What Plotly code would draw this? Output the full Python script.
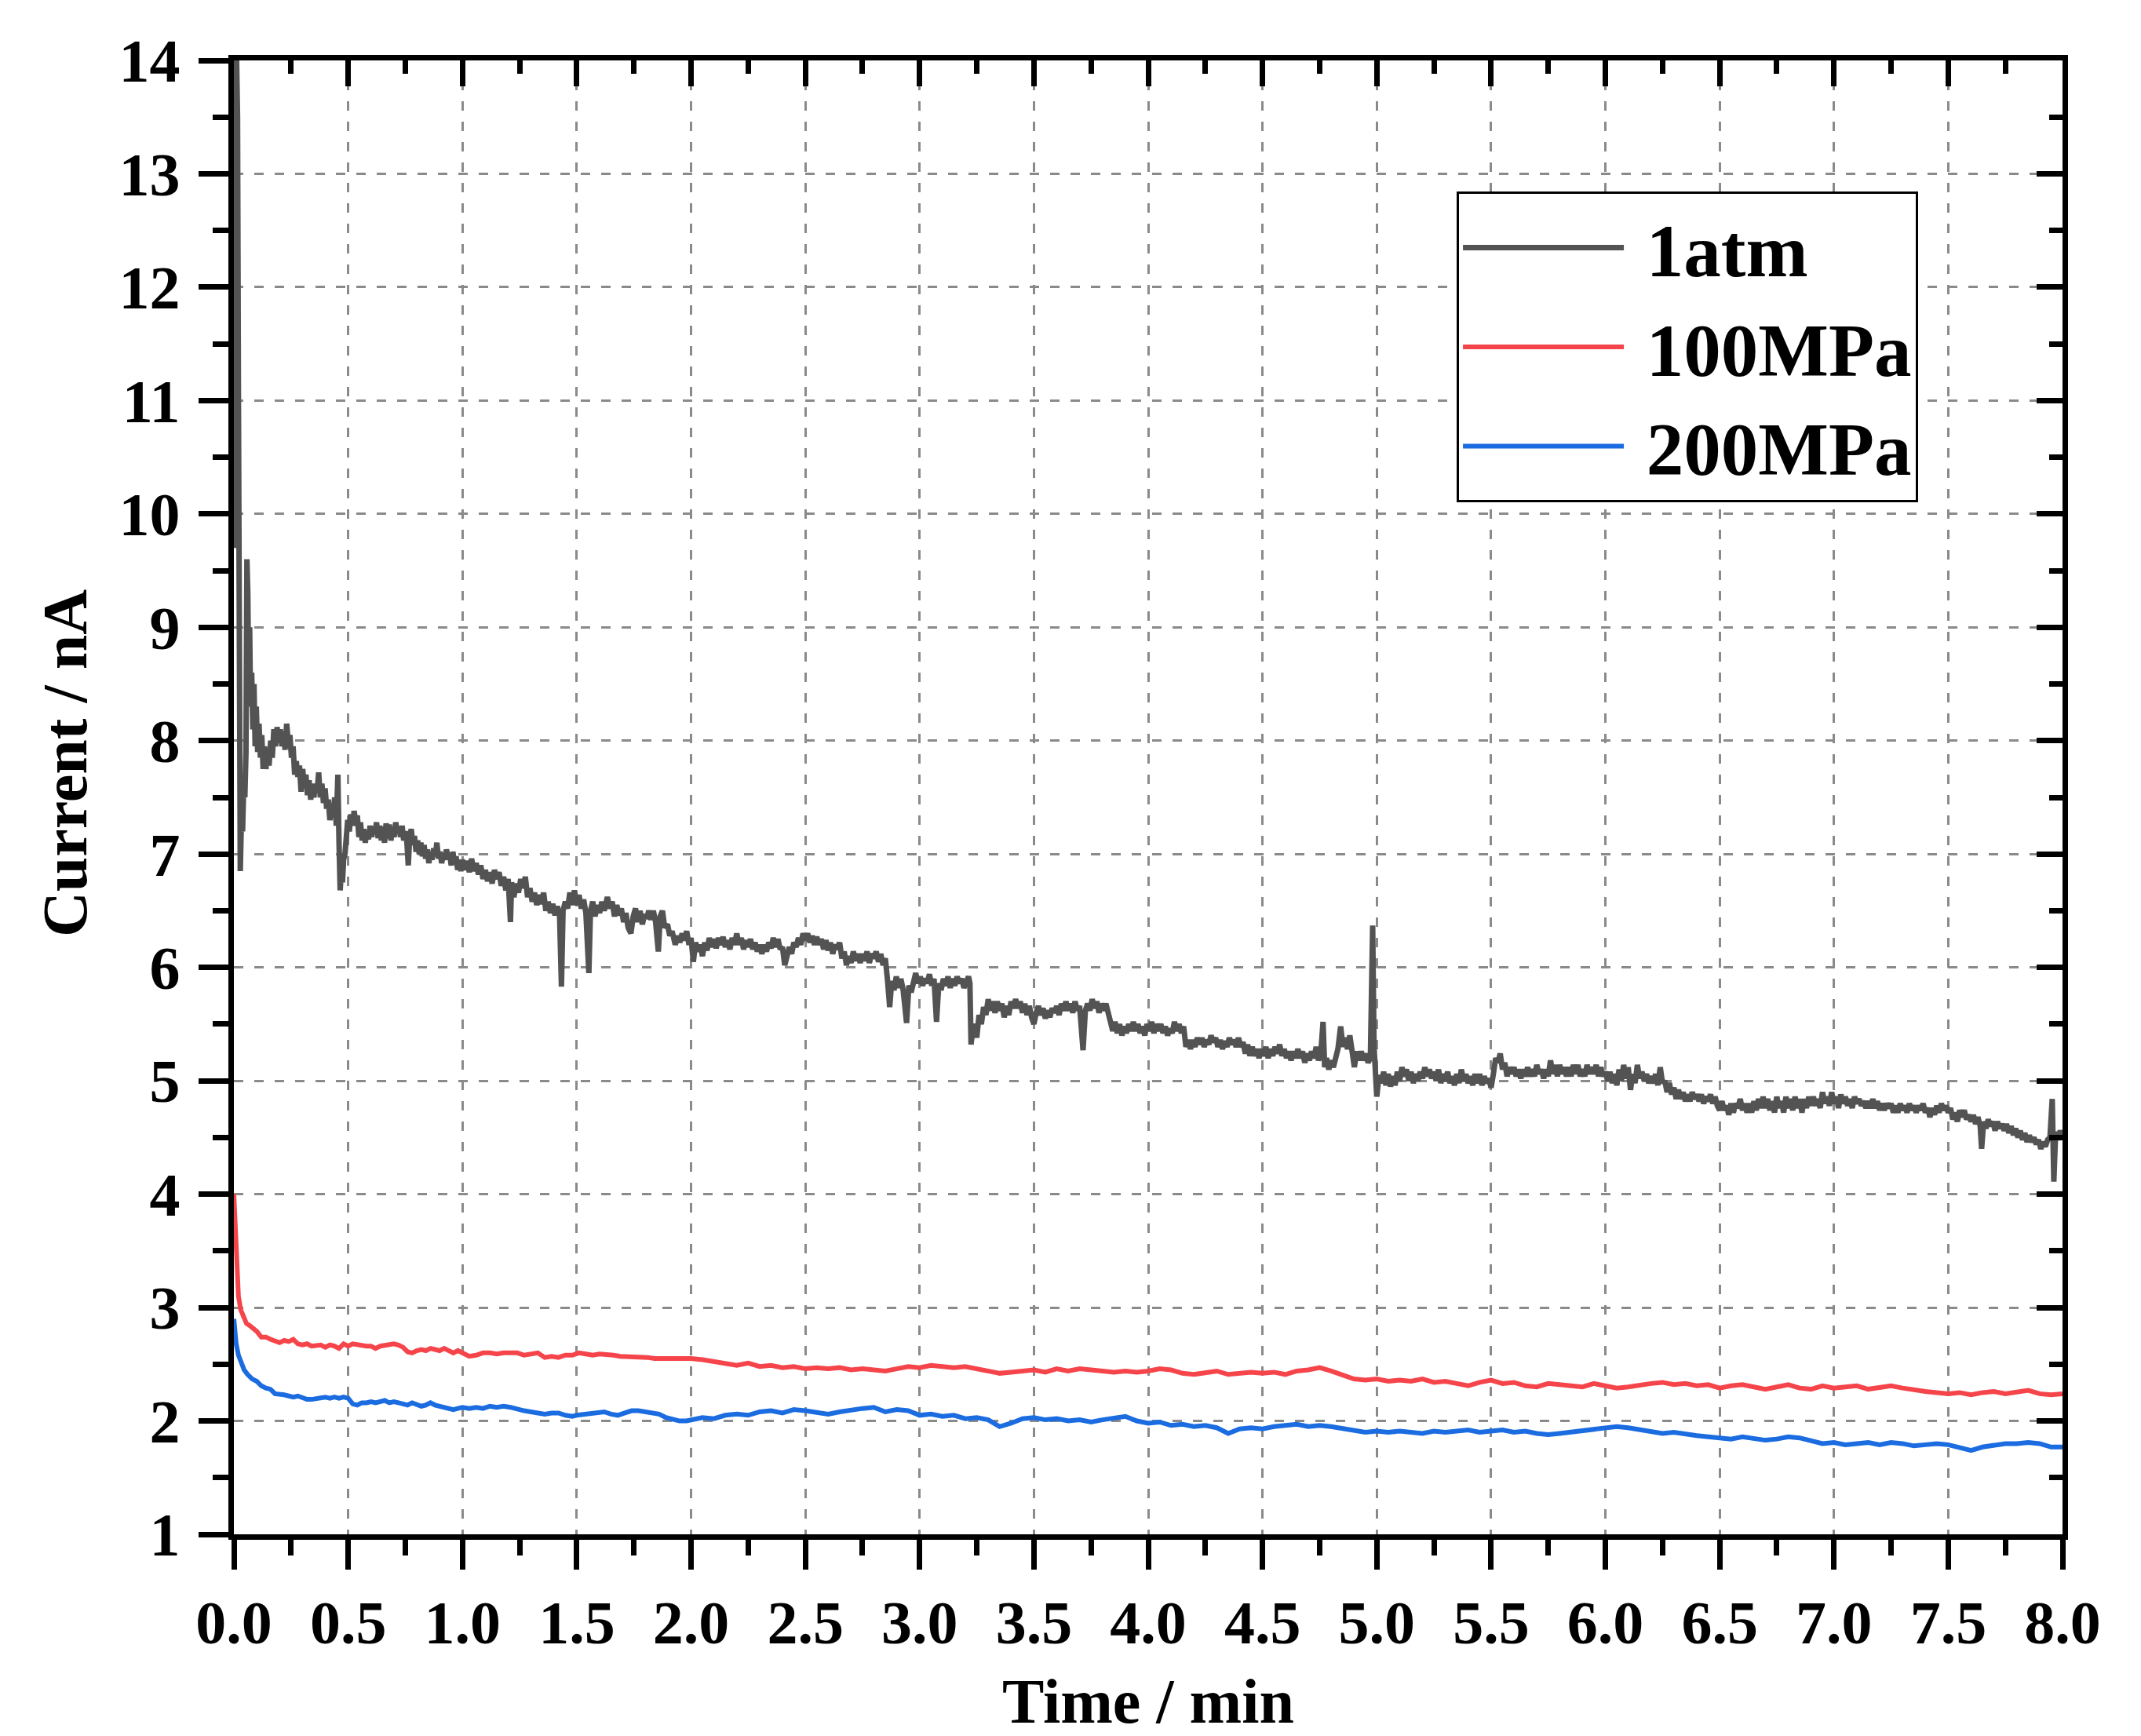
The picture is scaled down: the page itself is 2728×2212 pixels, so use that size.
import plotly.graph_objects as go

# ---------------- data ----------------
atm_t = [0.000,0.004,0.008,0.012,0.016,0.020,0.024,0.028,0.033,0.038,0.043,0.048,0.053,0.057,0.061,0.065,0.069,0.073,0.078,0.083,
0.088,0.093,0.098,0.104,0.110,0.116,0.122,0.128,0.134,0.140,0.147,0.154,0.161,0.168,0.175,0.182,0.189,0.196,0.203,0.210,
0.217,0.224,0.231,0.238,0.245,0.252,0.259,0.266,0.273,0.280,0.287,0.294,0.301,0.308,0.315,0.322,0.329,0.336,0.343,0.350,
0.357,0.364,0.371,0.378,0.385,0.392,0.399,0.406,0.413,0.420,0.427,0.434,0.441,0.448,0.455,0.460,0.465,0.470,0.475,0.480,
0.486,0.492,0.498,0.505,0.512,0.519,0.526,0.533,0.540,0.547,0.554,0.561,0.568,0.575,0.582,0.589,0.596,0.603,0.610,0.617,
0.624,0.631,0.638,0.645,0.652,0.659,0.666,0.673,0.680,0.687,0.694,0.701,0.708,0.715,0.722,0.729,0.736,0.743,0.750,0.757,
0.763,0.769,0.776,0.783,0.790,0.797,0.804,0.811,0.818,0.825,0.832,0.839,0.846,0.853,0.860,0.867,0.874,0.881,0.888,0.895,
0.902,0.909,0.916,0.923,0.930,0.937,0.944,0.951,0.958,0.965,0.972,0.979,0.986,0.993,1.000,1.010,1.020,1.030,1.040,1.050,
1.060,1.070,1.080,1.090,1.100,1.110,1.120,1.130,1.140,1.150,1.160,1.170,1.180,1.190,1.200,1.210,1.215,1.225,1.235,1.245,
1.255,1.265,1.275,1.285,1.295,1.305,1.315,1.325,1.335,1.345,1.355,1.365,1.375,1.385,1.395,1.405,1.415,1.425,1.433,1.440,
1.450,1.460,1.470,1.480,1.490,1.500,1.510,1.520,1.530,1.540,1.553,1.560,1.570,1.580,1.590,1.600,1.610,1.620,1.634,1.645,
1.655,1.665,1.675,1.685,1.695,1.705,1.715,1.725,1.737,1.747,1.757,1.767,1.777,1.787,1.797,1.806,1.815,1.825,1.835,1.845,
1.857,1.865,1.875,1.885,1.897,1.907,1.917,1.931,1.941,1.951,1.961,1.971,1.981,1.991,2.000,2.010,2.020,2.030,2.040,2.050,
2.060,2.070,2.080,2.090,2.100,2.110,2.120,2.130,2.140,2.150,2.160,2.170,2.180,2.190,2.200,2.210,2.220,2.230,2.240,2.250,
2.260,2.270,2.280,2.290,2.300,2.310,2.320,2.330,2.340,2.350,2.360,2.370,2.380,2.390,2.400,2.410,2.420,2.430,2.440,2.450,
2.460,2.470,2.480,2.490,2.500,2.510,2.520,2.530,2.540,2.550,2.560,2.570,2.580,2.590,2.600,2.610,2.620,2.630,2.640,2.650,
2.660,2.670,2.680,2.690,2.700,2.710,2.720,2.730,2.740,2.750,2.760,2.770,2.780,2.790,2.800,2.810,2.820,2.830,2.840,2.850,
2.860,2.869,2.878,2.888,2.898,2.908,2.918,2.928,2.943,2.953,2.963,2.973,2.983,2.993,3.003,3.013,3.023,3.033,3.043,3.053,
3.063,3.074,3.084,3.094,3.104,3.114,3.124,3.134,3.144,3.154,3.164,3.174,3.184,3.194,3.204,3.214,3.220,3.225,3.232,3.240,
3.250,3.260,3.270,3.280,3.290,3.300,3.310,3.320,3.330,3.340,3.350,3.360,3.370,3.380,3.390,3.400,3.410,3.420,3.430,3.440,
3.450,3.460,3.470,3.480,3.490,3.500,3.510,3.520,3.530,3.540,3.550,3.560,3.570,3.580,3.590,3.600,3.610,3.620,3.630,3.640,
3.650,3.660,3.670,3.680,3.690,3.700,3.715,3.725,3.735,3.745,3.755,3.765,3.775,3.785,3.795,3.805,3.815,3.825,3.835,3.845,
3.855,3.865,3.875,3.885,3.895,3.905,3.915,3.925,3.935,3.945,3.955,3.965,3.975,3.985,3.995,4.005,4.015,4.025,4.035,4.045,
4.055,4.065,4.075,4.085,4.095,4.105,4.115,4.125,4.135,4.145,4.155,4.165,4.175,4.185,4.195,4.205,4.215,4.225,4.235,4.245,
4.255,4.265,4.275,4.285,4.295,4.305,4.315,4.325,4.335,4.345,4.355,4.365,4.375,4.385,4.395,4.405,4.415,4.425,4.435,4.445,
4.455,4.465,4.475,4.485,4.495,4.505,4.515,4.525,4.535,4.545,4.555,4.565,4.575,4.585,4.595,4.605,4.615,4.625,4.635,4.645,
4.655,4.665,4.675,4.685,4.695,4.705,4.715,4.725,4.735,4.745,4.755,4.765,4.772,4.780,4.790,4.800,4.810,4.820,4.830,4.842,
4.852,4.862,4.872,4.882,4.892,4.902,4.912,4.922,4.932,4.942,4.952,4.962,4.972,4.982,4.988,4.994,5.000,5.010,5.020,5.030,
5.040,5.050,5.060,5.070,5.080,5.090,5.100,5.110,5.120,5.130,5.140,5.150,5.160,5.170,5.180,5.190,5.200,5.210,5.220,5.230,
5.240,5.250,5.260,5.270,5.280,5.290,5.300,5.310,5.320,5.330,5.340,5.350,5.360,5.370,5.380,5.390,5.400,5.410,5.420,5.430,
5.440,5.450,5.460,5.470,5.480,5.490,5.500,5.510,5.520,5.530,5.540,5.550,5.560,5.570,5.580,5.590,5.600,5.610,5.620,5.630,
5.640,5.650,5.660,5.670,5.680,5.690,5.700,5.710,5.720,5.730,5.740,5.750,5.760,5.770,5.780,5.790,5.800,5.810,5.820,5.830,
5.840,5.850,5.860,5.870,5.880,5.890,5.900,5.910,5.920,5.930,5.940,5.950,5.960,5.970,5.980,5.990,6.000,6.010,6.020,6.030,
6.040,6.050,6.060,6.070,6.080,6.090,6.100,6.110,6.120,6.130,6.140,6.150,6.160,6.170,6.180,6.190,6.200,6.210,6.220,6.230,
6.240,6.250,6.260,6.270,6.280,6.290,6.300,6.310,6.320,6.330,6.340,6.350,6.360,6.370,6.380,6.390,6.400,6.410,6.420,6.430,
6.440,6.450,6.460,6.470,6.480,6.490,6.500,6.510,6.520,6.530,6.540,6.550,6.560,6.570,6.580,6.590,6.600,6.610,6.620,6.630,
6.640,6.650,6.660,6.670,6.680,6.690,6.700,6.710,6.720,6.730,6.740,6.750,6.760,6.770,6.780,6.790,6.800,6.810,6.820,6.830,
6.840,6.850,6.860,6.870,6.880,6.890,6.900,6.910,6.920,6.930,6.940,6.950,6.960,6.970,6.980,6.990,7.000,7.010,7.020,7.030,
7.040,7.050,7.060,7.070,7.080,7.090,7.100,7.110,7.120,7.130,7.140,7.150,7.160,7.170,7.180,7.190,7.200,7.210,7.220,7.230,
7.240,7.250,7.260,7.270,7.280,7.290,7.300,7.310,7.320,7.330,7.340,7.350,7.360,7.370,7.380,7.390,7.400,7.410,7.420,7.430,
7.440,7.450,7.460,7.470,7.480,7.490,7.500,7.510,7.520,7.530,7.540,7.550,7.560,7.570,7.580,7.590,7.600,7.610,7.620,7.630,
7.640,7.646,7.655,7.665,7.675,7.685,7.695,7.705,7.715,7.725,7.735,7.745,7.755,7.765,7.775,7.785,7.795,7.805,7.815,7.825,
7.835,7.845,7.855,7.865,7.875,7.885,7.895,7.905,7.915,7.925,7.935,7.945,7.955,7.962,7.970,7.980,7.990,8.000]

atm_v = [9.7,14.0,12.8,14.0,13.5,11.0,9.8,6.85,7.3,7.2,7.6,7.5,7.9,9.6,9.3,8.4,9.0,8.3,8.6,8.1,
8.5,7.95,8.3,7.9,8.15,7.85,8.05,7.75,7.95,7.75,7.9,7.78,8.0,7.85,8.1,7.95,8.12,7.98,8.1,7.95,
8.08,7.92,8.15,7.98,8.05,7.85,7.95,7.7,7.82,7.68,7.78,7.55,7.75,7.6,7.7,7.52,7.65,7.48,7.62,7.5,
7.62,7.55,7.72,7.5,7.62,7.45,7.58,7.4,7.48,7.3,7.4,7.33,7.5,7.25,7.7,7.1,6.68,6.85,6.75,6.95,
7.0,7.15,7.3,7.2,7.35,7.25,7.38,7.28,7.34,7.15,7.28,7.12,7.22,7.1,7.2,7.13,7.25,7.15,7.24,7.18,
7.28,7.14,7.25,7.12,7.24,7.1,7.27,7.14,7.26,7.12,7.22,7.15,7.28,7.18,7.24,7.15,7.25,7.12,7.2,7.1,
6.9,7.15,7.22,7.08,7.16,7.02,7.12,7.0,7.1,6.98,7.08,6.96,7.04,6.92,7.02,6.95,7.05,6.98,7.1,6.96,
7.02,6.92,7.0,6.95,7.04,6.96,7.0,6.9,7.02,6.92,6.98,6.86,6.95,6.85,6.95,6.86,6.94,6.84,6.96,6.85,
6.92,6.82,6.9,6.78,6.86,6.76,6.84,6.74,6.86,6.78,6.84,6.72,6.8,6.68,6.78,6.4,6.75,6.62,6.74,6.66,
6.78,6.7,6.8,6.62,6.7,6.58,6.66,6.55,6.64,6.56,6.66,6.5,6.58,6.48,6.56,6.46,6.54,6.45,5.83,6.5,
6.58,6.52,6.66,6.55,6.68,6.55,6.64,6.52,6.6,6.48,5.95,6.5,6.58,6.45,6.55,6.48,6.58,6.5,6.62,6.52,
6.58,6.45,6.55,6.46,6.52,6.4,6.48,6.35,6.3,6.45,6.52,6.4,6.5,6.38,6.47,6.43,6.5,6.42,6.5,6.4,
6.14,6.45,6.5,6.35,6.38,6.28,6.32,6.2,6.28,6.22,6.3,6.24,6.32,6.2,6.26,6.05,6.22,6.14,6.2,6.1,
6.22,6.15,6.26,6.18,6.25,6.17,6.26,6.2,6.27,6.18,6.24,6.16,6.26,6.2,6.3,6.2,6.26,6.16,6.24,6.18,
6.25,6.16,6.22,6.14,6.2,6.12,6.2,6.14,6.22,6.17,6.26,6.18,6.25,6.16,6.18,6.02,6.12,6.18,6.12,6.22,
6.18,6.26,6.2,6.3,6.24,6.3,6.22,6.28,6.2,6.27,6.2,6.25,6.16,6.24,6.15,6.22,6.12,6.2,6.16,6.22,
6.08,6.14,6.02,6.1,6.04,6.14,6.06,6.12,6.04,6.12,6.06,6.14,6.04,6.12,6.08,6.14,6.05,6.12,6.02,6.08,
5.88,5.65,5.88,5.8,5.92,5.82,5.9,5.8,5.51,5.84,5.78,5.9,5.95,5.86,5.92,5.84,5.9,5.86,5.94,5.84,
5.9,5.52,5.86,5.8,5.9,5.84,5.92,5.82,5.9,5.84,5.92,5.86,5.9,5.82,5.88,5.92,5.86,5.32,5.45,5.5,
5.38,5.58,5.5,5.65,5.58,5.72,5.62,5.7,5.6,5.7,5.62,5.68,5.56,5.66,5.58,5.7,5.64,5.72,5.64,5.7,
5.6,5.68,5.58,5.66,5.56,5.5,5.6,5.66,5.58,5.64,5.55,5.62,5.56,5.64,5.6,5.66,5.58,5.68,5.62,5.7,
5.62,5.68,5.6,5.7,5.62,5.66,5.27,5.62,5.68,5.62,5.72,5.64,5.7,5.6,5.68,5.62,5.68,5.58,5.5,5.44,
5.52,5.42,5.5,5.4,5.48,5.42,5.5,5.44,5.52,5.44,5.5,5.42,5.48,5.4,5.5,5.44,5.52,5.42,5.5,5.44,
5.5,5.42,5.48,5.4,5.46,5.42,5.52,5.44,5.5,5.42,5.48,5.3,5.36,5.28,5.36,5.3,5.38,5.32,5.38,5.3,
5.36,5.32,5.4,5.34,5.38,5.3,5.36,5.28,5.35,5.3,5.38,5.32,5.36,5.3,5.38,5.3,5.34,5.24,5.32,5.22,
5.3,5.22,5.28,5.2,5.28,5.22,5.3,5.2,5.28,5.22,5.3,5.24,5.32,5.22,5.28,5.2,5.26,5.18,5.26,5.2,
5.28,5.2,5.26,5.16,5.24,5.18,5.26,5.2,5.3,5.18,5.24,5.52,5.12,5.2,5.1,5.18,5.12,5.2,5.28,5.48,
5.3,5.38,5.28,5.4,5.22,5.12,5.26,5.18,5.26,5.18,5.24,5.16,5.2,6.37,5.3,5.05,4.86,5.05,4.98,5.08,
4.96,5.06,4.95,5.04,4.96,5.08,5.0,5.12,5.04,5.1,5.0,5.08,4.98,5.06,5.0,5.08,5.02,5.12,5.04,5.1,
5.02,5.08,5.0,5.1,4.98,5.06,5.0,5.08,4.98,5.04,4.96,5.06,4.98,5.1,5.0,5.06,4.98,5.04,4.96,5.06,
4.98,5.06,4.96,5.04,4.98,5.02,4.94,5.06,5.2,5.16,5.24,5.1,5.16,5.04,5.12,5.06,5.12,5.04,5.1,5.02,
5.1,5.04,5.12,5.04,5.1,5.04,5.14,5.06,5.1,5.02,5.1,5.04,5.18,5.06,5.14,5.04,5.14,5.06,5.12,5.04,
5.12,5.04,5.14,5.06,5.14,5.04,5.1,5.04,5.14,5.06,5.12,5.06,5.14,5.04,5.12,5.04,5.08,5.0,5.08,4.98,
5.06,4.96,5.1,5.0,5.14,5.02,5.12,4.92,5.06,4.98,5.14,5.02,5.08,5.0,5.06,4.98,5.04,4.98,5.06,4.96,
5.12,4.98,5.0,4.9,4.98,4.88,4.94,4.84,4.92,4.84,4.9,4.82,4.88,4.82,4.9,4.84,4.88,4.82,4.88,4.8,
4.86,4.82,4.88,4.8,4.86,4.78,4.74,4.82,4.74,4.78,4.7,4.8,4.72,4.8,4.76,4.84,4.74,4.8,4.72,4.8,
4.72,4.82,4.74,4.84,4.76,4.86,4.76,4.84,4.74,4.82,4.72,4.86,4.76,4.82,4.72,4.86,4.76,4.84,4.74,4.86,
4.76,4.84,4.72,4.84,4.76,4.86,4.78,4.86,4.78,4.84,4.76,4.9,4.8,4.86,4.78,4.9,4.8,4.86,4.76,4.88,
4.8,4.86,4.78,4.84,4.76,4.86,4.8,4.84,4.78,4.82,4.76,4.82,4.76,4.84,4.76,4.82,4.74,4.8,4.74,4.8,
4.76,4.8,4.72,4.78,4.72,4.8,4.74,4.78,4.72,4.8,4.74,4.78,4.72,4.78,4.74,4.8,4.72,4.76,4.68,4.76,
4.7,4.78,4.72,4.8,4.74,4.78,4.72,4.76,4.66,4.72,4.64,4.74,4.68,4.74,4.66,4.7,4.64,4.7,4.62,4.68,
4.6,4.4,4.64,4.58,4.66,4.6,4.64,4.56,4.64,4.58,4.62,4.56,4.62,4.54,4.6,4.52,4.58,4.5,4.56,4.48,
4.54,4.46,4.52,4.46,4.5,4.44,4.48,4.4,4.46,4.42,4.48,4.5,4.84,4.11,4.55,4.48,4.56,4.5]

mpa100_t = [0.000,0.005,0.010,0.015,0.020,0.030,0.040,0.055,0.070,0.085,0.100,0.120,0.140,0.160,0.180,0.200,0.220,0.240,0.260,0.280,
0.300,0.320,0.340,0.360,0.380,0.400,0.420,0.440,0.460,0.480,0.500,0.520,0.540,0.560,0.580,0.600,0.620,0.640,0.660,0.680,
0.700,0.720,0.740,0.760,0.780,0.800,0.820,0.840,0.860,0.880,0.900,0.920,0.940,0.960,0.980,1.000,1.030,1.060,1.090,1.120,
1.150,1.180,1.210,1.240,1.270,1.300,1.330,1.360,1.390,1.420,1.450,1.480,1.510,1.540,1.570,1.600,1.630,1.660,1.690,1.720,
1.750,1.780,1.810,1.840,1.870,1.900,1.930,1.960,2.000,2.05,2.10,2.15,2.20,2.25,2.30,2.35,2.40,2.45,2.50,2.55,
2.60,2.65,2.70,2.75,2.80,2.85,2.90,2.95,3.00,3.05,3.10,3.15,3.20,3.25,3.30,3.35,3.40,3.45,3.50,3.55,
3.60,3.65,3.70,3.75,3.80,3.85,3.90,3.95,4.00,4.05,4.10,4.15,4.20,4.25,4.30,4.35,4.40,4.45,4.50,4.55,
4.60,4.65,4.70,4.75,4.80,4.85,4.90,4.95,5.00,5.05,5.10,5.15,5.20,5.25,5.30,5.35,5.40,5.45,5.50,5.55,
5.60,5.65,5.70,5.75,5.80,5.85,5.90,5.95,6.00,6.05,6.10,6.15,6.20,6.25,6.30,6.35,6.40,6.45,6.50,6.55,
6.60,6.65,6.70,6.75,6.80,6.85,6.90,6.95,7.00,7.05,7.10,7.15,7.20,7.25,7.30,7.35,7.40,7.45,7.50,7.55,
7.60,7.65,7.70,7.75,7.80,7.85,7.90,7.95,8.00]
mpa100_v = [4.0,3.7,3.4,3.22,3.1,2.98,2.92,2.86,2.84,2.82,2.79,2.74,2.74,2.72,2.71,2.69,2.71,2.7,2.72,2.68,
2.67,2.68,2.66,2.67,2.67,2.65,2.67,2.66,2.64,2.68,2.66,2.68,2.67,2.67,2.66,2.66,2.64,2.66,2.67,2.68,
2.68,2.67,2.65,2.61,2.6,2.62,2.63,2.62,2.64,2.63,2.62,2.64,2.62,2.6,2.62,2.6,2.57,2.58,2.6,2.6,
2.59,2.6,2.6,2.6,2.58,2.59,2.6,2.56,2.57,2.56,2.58,2.58,2.6,2.59,2.58,2.59,2.59,2.58,2.57,2.57,
2.56,2.56,2.56,2.55,2.55,2.56,2.55,2.55,2.55,2.54,2.52,2.5,2.49,2.51,2.48,2.49,2.47,2.48,2.46,2.47,
2.46,2.47,2.45,2.46,2.45,2.44,2.46,2.48,2.47,2.49,2.48,2.47,2.48,2.46,2.44,2.42,2.43,2.44,2.45,2.43,
2.46,2.44,2.46,2.45,2.44,2.43,2.44,2.43,2.44,2.46,2.45,2.42,2.41,2.43,2.44,2.41,2.42,2.43,2.42,2.43,
2.41,2.44,2.45,2.47,2.44,2.41,2.37,2.36,2.37,2.35,2.36,2.35,2.37,2.34,2.35,2.33,2.31,2.34,2.36,2.33,
2.34,2.31,2.3,2.33,2.32,2.31,2.3,2.33,2.31,2.29,2.3,2.32,2.33,2.34,2.32,2.33,2.31,2.32,2.29,2.31,
2.32,2.3,2.28,2.3,2.32,2.29,2.28,2.31,2.29,2.3,2.31,2.28,2.3,2.31,2.29,2.27,2.26,2.25,2.24,2.25,
2.23,2.25,2.26,2.24,2.25,2.27,2.24,2.23,2.24]

mpa200_t = [0.000,0.005,0.010,0.020,0.030,0.045,0.060,0.080,0.100,0.120,0.140,0.160,0.180,0.200,0.220,0.240,0.260,0.280,0.300,0.320,
0.340,0.360,0.380,0.400,0.420,0.440,0.460,0.480,0.500,0.520,0.540,0.560,0.580,0.600,0.620,0.640,0.660,0.680,0.700,0.720,
0.740,0.760,0.780,0.800,0.820,0.840,0.860,0.880,0.900,0.920,0.940,0.960,0.980,1.000,1.030,1.060,1.090,1.120,1.150,1.180,
1.210,1.240,1.270,1.300,1.330,1.360,1.390,1.420,1.450,1.480,1.500,1.530,1.560,1.590,1.620,1.650,1.680,1.710,1.740,1.770,
1.800,1.830,1.860,1.890,1.920,1.950,1.980,2.000,2.05,2.10,2.15,2.20,2.25,2.30,2.35,2.40,2.45,2.50,2.55,2.60,
2.65,2.70,2.75,2.80,2.85,2.90,2.95,3.00,3.05,3.10,3.15,3.20,3.25,3.30,3.35,3.40,3.45,3.50,3.55,3.60,
3.65,3.70,3.75,3.80,3.85,3.90,3.95,4.00,4.05,4.10,4.15,4.20,4.25,4.30,4.35,4.40,4.45,4.50,4.55,4.60,
4.65,4.70,4.75,4.80,4.85,4.90,4.95,5.00,5.05,5.10,5.15,5.20,5.25,5.30,5.35,5.40,5.45,5.50,5.55,5.60,
5.65,5.70,5.75,5.80,5.85,5.90,5.95,6.00,6.05,6.10,6.15,6.20,6.25,6.30,6.35,6.40,6.45,6.50,6.55,6.60,
6.65,6.70,6.75,6.80,6.85,6.90,6.95,7.00,7.05,7.10,7.15,7.20,7.25,7.30,7.35,7.40,7.45,7.50,7.55,7.60,
7.65,7.70,7.75,7.80,7.85,7.90,7.95,8.00]
mpa200_v = [2.9,2.78,2.68,2.58,2.52,2.45,2.41,2.37,2.35,2.31,2.29,2.28,2.24,2.24,2.23,2.22,2.21,2.22,2.2,2.19,
2.19,2.2,2.21,2.21,2.2,2.21,2.2,2.21,2.2,2.15,2.14,2.16,2.16,2.17,2.16,2.17,2.18,2.16,2.17,2.16,
2.15,2.14,2.16,2.15,2.13,2.14,2.16,2.14,2.13,2.12,2.11,2.1,2.11,2.12,2.11,2.12,2.11,2.13,2.12,2.13,
2.12,2.1,2.09,2.08,2.07,2.06,2.07,2.07,2.05,2.04,2.05,2.06,2.07,2.08,2.08,2.06,2.05,2.07,2.09,2.09,
2.08,2.08,2.06,2.03,2.01,2.0,2.0,2.01,2.03,2.02,2.05,2.06,2.05,2.08,2.09,2.07,2.1,2.09,2.08,2.06,
2.08,2.1,2.11,2.12,2.08,2.1,2.09,2.05,2.06,2.04,2.05,2.02,2.03,2.01,1.95,1.98,2.02,2.03,2.01,2.02,
2.0,2.01,1.99,2.01,2.03,2.04,2.0,1.98,1.99,1.96,1.97,1.95,1.96,1.94,1.89,1.93,1.94,1.93,1.95,1.96,
1.97,1.95,1.96,1.95,1.93,1.91,1.9,1.91,1.9,1.91,1.9,1.89,1.91,1.9,1.91,1.92,1.9,1.91,1.92,1.9,
1.91,1.89,1.88,1.89,1.9,1.91,1.92,1.93,1.95,1.94,1.92,1.91,1.89,1.9,1.88,1.87,1.86,1.85,1.84,1.86,
1.85,1.83,1.84,1.86,1.85,1.83,1.8,1.81,1.79,1.8,1.81,1.79,1.81,1.8,1.78,1.79,1.8,1.79,1.77,1.74,
1.77,1.79,1.8,1.8,1.81,1.8,1.77,1.77]

series_names = ["1atm", "100MPa", "200MPa"]
series_colors = ["#535353", "#F5454B", "#1A6CE0"]

x_range = [0, 8]
y_range = [1, 14]
x_ticks = [i * 0.5 for i in range(17)]
y_ticks = list(range(1, 15))

# ---------------- figure ----------------
FONT = "Liberation Serif, Times New Roman, serif"
NBSP = "\u00a0"

fig = go.Figure()
for t, v, name, col, w in [(atm_t, atm_v, series_names[0], series_colors[0], 7),
                           (mpa100_t, mpa100_v, series_names[1], series_colors[1], 6),
                           (mpa200_t, mpa200_v, series_names[2], series_colors[2], 6)]:
    fig.add_trace(go.Scatter(x=t, y=v, mode="lines", name=NBSP + name,
                             line=dict(color=col, width=w)))

# empty trace to materialise the mirrored (top/right) axes
fig.add_trace(go.Scatter(x=[], y=[], xaxis="x2", yaxis="y2", showlegend=False, hoverinfo="skip"))

grid = dict(showgrid=True, gridcolor="#8a8a8a", gridwidth=3, griddash="12px,14px")
tickfont = dict(family=FONT, size=78, color="black", weight="bold")
titlefont = dict(family=FONT, size=80, color="black", weight="bold")

# page body has an 8px margin -> figure is 8px smaller and shifted
W, H = 2720, 2204
L, T = 290, 69
PW, PH = 2330, 1878

fig.update_layout(
    width=W, height=H,
    margin=dict(l=L, r=W - L - PW, t=T, b=H - T - PH),
    paper_bgcolor="white", plot_bgcolor="white",
    showlegend=True,
    legend=dict(
        x=0.6687, y=0.911, xanchor="left", yanchor="top",
        bgcolor="white", bordercolor="black", borderwidth=3,
        font=dict(family=FONT, size=95, color="black", weight="bold"),
        itemwidth=205, tracegroupgap=0,
    ),
    xaxis=dict(
        range=x_range, tickmode="array", tickvals=x_ticks,
        ticktext=[f"{v:.1f}" for v in x_ticks],
        showline=True, linecolor="black", linewidth=7,
        ticks="outside", ticklen=38, tickwidth=7, tickcolor="black",
        minor=dict(dtick=0.25, tick0=0, ticks="outside", ticklen=20, tickwidth=7, tickcolor="black", showgrid=False),
        tickfont=tickfont, zeroline=False, **grid,
        title=dict(text="Time / min", font=titlefont, standoff=52),
        automargin=False,
    ),
    yaxis=dict(
        range=y_range, tickmode="array", tickvals=y_ticks,
        ticktext=[str(v) for v in y_ticks],
        showline=True, linecolor="black", linewidth=7,
        ticks="outside", ticklen=38, tickwidth=7, tickcolor="black",
        minor=dict(dtick=0.5, tick0=1, ticks="outside", ticklen=20, tickwidth=7, tickcolor="black", showgrid=False),
        tickfont=tickfont, zeroline=False, ticklabelstandoff=8, **grid,
        automargin=False,
    ),
    xaxis2=dict(
        range=x_range, overlaying="x", side="top", anchor="y2",
        tickmode="array", tickvals=x_ticks, showticklabels=False,
        showline=True, linecolor="black", linewidth=7,
        ticks="inside", ticklen=33, tickwidth=7, tickcolor="black",
        minor=dict(dtick=0.25, tick0=0, ticks="inside", ticklen=17, tickwidth=7, tickcolor="black", showgrid=False),
        showgrid=False, zeroline=False,
    ),
    yaxis2=dict(
        range=y_range, overlaying="y", side="right", anchor="x2",
        tickmode="array", tickvals=y_ticks, showticklabels=False,
        showline=True, linecolor="black", linewidth=7,
        ticks="inside", ticklen=33, tickwidth=7, tickcolor="black",
        minor=dict(dtick=0.5, tick0=1, ticks="inside", ticklen=17, tickwidth=7, tickcolor="black", showgrid=False),
        showgrid=False, zeroline=False,
    ),
    annotations=[dict(
        text="Current / nA", textangle=-90, font=titlefont,
        xref="paper", yref="paper", x=(83 - 298) / PW, y=(1955 - 973) / PH,
        xanchor="center", yanchor="middle", showarrow=False,
    )],
)

fig.write_html("out.html")
